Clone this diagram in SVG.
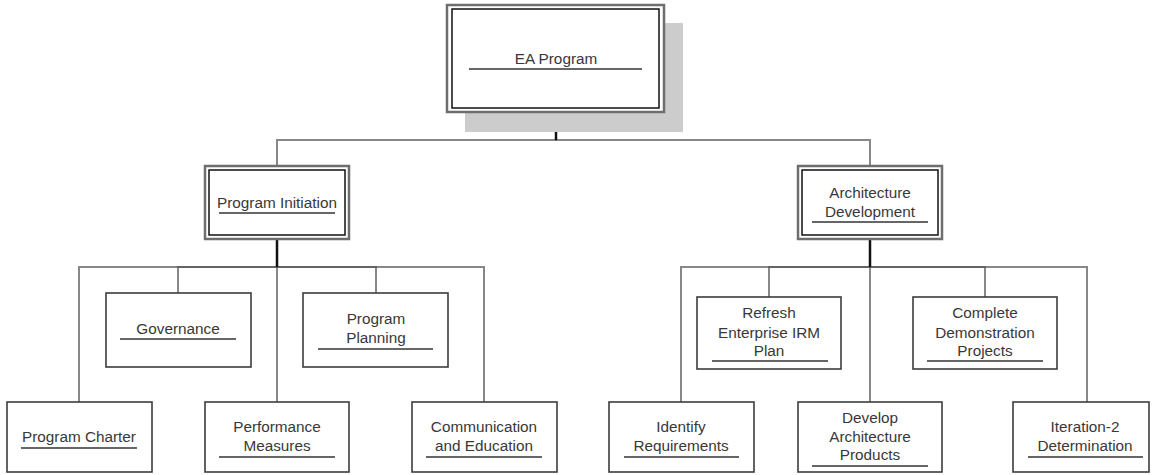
<svg xmlns="http://www.w3.org/2000/svg" width="1152" height="475" viewBox="0 0 1152 475">
<style>
.bg{fill:#ffffff}
.outer{fill:#ffffff;stroke:#6e6e6e;stroke-width:2.5}
.inner{fill:none;stroke:#111111;stroke-width:1.5}
.box{fill:#ffffff;stroke:#3c3c3c;stroke-width:1.6}
.shadow{fill:#cccccc}
.ul{stroke:#333333;stroke-width:1.5}
.t{font-family:"Liberation Sans",Arial,sans-serif;font-size:15.3px;fill:#383838;text-anchor:middle}
.c{fill:none;stroke:#555555;stroke-opacity:0.7;stroke-width:2}
.stub{fill:none;stroke:#111111;stroke-width:2.5}
</style>
<rect class="bg" x="0" y="0" width="1152" height="475"/>
<g id="connectors">
<path class="c" d="M556,112 V140 H277 V166"/>
<path class="c" d="M556,112 V140 H870 V166"/>
<path class="c" d="M277,239 V267 H79 V402"/>
<path class="c" d="M277,239 V267 H178 V293"/>
<path class="c" d="M277,239 V267 V402"/>
<path class="c" d="M277,239 V267 H376 V293"/>
<path class="c" d="M277,239 V267 H484 V402"/>
<path class="c" d="M870,239 V267 H681 V402"/>
<path class="c" d="M870,239 V267 H769 V297"/>
<path class="c" d="M870,239 V267 V402"/>
<path class="c" d="M870,239 V267 H985 V297"/>
<path class="c" d="M870,239 V267 H1087 V402"/>
<path class="stub" d="M556,112 V140"/>
<path class="stub" d="M277,239 V267"/>
<path class="stub" d="M870,239 V267"/>
</g>
<g id="ea-program">
<rect class="shadow" x="465" y="23" width="218" height="109"/>
<rect class="outer" x="447" y="5" width="217" height="107"/>
<rect class="inner" x="452" y="9" width="207" height="99"/>
<text class="t" x="556" y="64">EA Program</text>
<line class="ul" x1="469" y1="69" x2="642" y2="69"/>
</g>
<g id="program-initiation">
<rect class="outer" x="205" y="166" width="144" height="73"/>
<rect class="inner" x="209" y="170" width="136" height="65"/>
<text class="t" x="277" y="208">Program Initiation</text>
<line class="ul" x1="219" y1="213" x2="335" y2="213"/>
</g>
<g id="architecture-development">
<rect class="outer" x="798" y="166" width="144" height="73"/>
<rect class="inner" x="802" y="170" width="136" height="65"/>
<text class="t" x="870" y="198">Architecture</text>
<text class="t" x="870" y="217">Development</text>
<line class="ul" x1="812" y1="222" x2="928" y2="222"/>
</g>
<g id="governance">
<rect class="box" x="106" y="293" width="145" height="74"/>
<text class="t" x="178" y="334">Governance</text>
<line class="ul" x1="120" y1="339" x2="236" y2="339"/>
</g>
<g id="program-planning">
<rect class="box" x="303" y="293" width="145" height="74"/>
<text class="t" x="376" y="324">Program</text>
<text class="t" x="376" y="343">Planning</text>
<line class="ul" x1="318" y1="349" x2="433" y2="349"/>
</g>
<g id="program-charter">
<rect class="box" x="7" y="402" width="145" height="70"/>
<text class="t" x="79" y="442">Program Charter</text>
<line class="ul" x1="21" y1="448" x2="137" y2="448"/>
</g>
<g id="performance-measures">
<rect class="box" x="205" y="402" width="144" height="70"/>
<text class="t" x="277" y="432">Performance</text>
<text class="t" x="277" y="451">Measures</text>
<line class="ul" x1="219" y1="457" x2="335" y2="457"/>
</g>
<g id="communication-education">
<rect class="box" x="412" y="402" width="145" height="70"/>
<text class="t" x="484" y="432">Communication</text>
<text class="t" x="484" y="451">and Education</text>
<line class="ul" x1="426" y1="457" x2="542" y2="457"/>
</g>
<g id="refresh-irm-plan">
<rect class="box" x="697" y="297" width="144" height="72"/>
<text class="t" x="769" y="318">Refresh</text>
<text class="t" x="769" y="338">Enterprise IRM</text>
<text class="t" x="769" y="356">Plan</text>
<line class="ul" x1="712" y1="361" x2="828" y2="361"/>
</g>
<g id="complete-demonstration">
<rect class="box" x="913" y="297" width="144" height="72"/>
<text class="t" x="985" y="318">Complete</text>
<text class="t" x="985" y="338">Demonstration</text>
<text class="t" x="985" y="356">Projects</text>
<line class="ul" x1="927" y1="361" x2="1043" y2="361"/>
</g>
<g id="identify-requirements">
<rect class="box" x="609" y="402" width="145" height="70"/>
<text class="t" x="681" y="432">Identify</text>
<text class="t" x="681" y="451">Requirements</text>
<line class="ul" x1="624" y1="457" x2="739" y2="457"/>
</g>
<g id="develop-architecture-products">
<rect class="box" x="798" y="402" width="144" height="70"/>
<text class="t" x="870" y="423">Develop</text>
<text class="t" x="870" y="442">Architecture</text>
<text class="t" x="870" y="460">Products</text>
<line class="ul" x1="812" y1="466" x2="928" y2="466"/>
</g>
<g id="iteration-2">
<rect class="box" x="1013" y="402" width="136" height="70"/>
<text class="t" x="1085" y="432">Iteration-2</text>
<text class="t" x="1085" y="451">Determination</text>
<line class="ul" x1="1028" y1="457" x2="1143" y2="457"/>
</g>
</svg>
